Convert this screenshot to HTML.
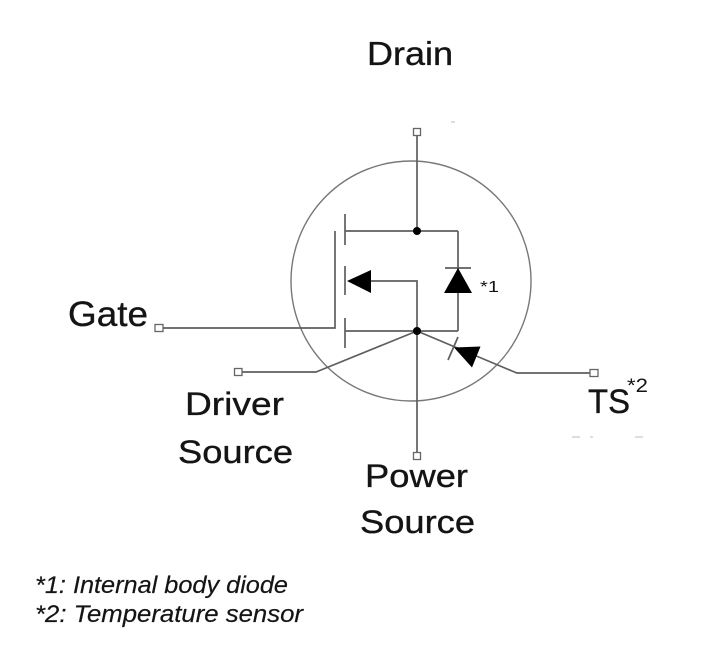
<!DOCTYPE html>
<html>
<head>
<meta charset="utf-8">
<style>
  html, body { margin:0; padding:0; background:#ffffff; }
  body { width:726px; height:663px; overflow:hidden; }
  svg { display:block; }
  text { font-family: "Liberation Sans", "DejaVu Sans", sans-serif; fill:#141414; }
  .lbl { stroke:#141414; stroke-width:0.35; }
  .fn { stroke:#1a1a1a; stroke-width:0.2; }
</style>
</head>
<body>
<svg width="726" height="663" viewBox="0 0 726 663" xmlns="http://www.w3.org/2000/svg">
  <rect width="726" height="663" fill="#ffffff"/>

  <!-- circle -->
  <circle cx="411" cy="281" r="120" fill="none" stroke="#777" stroke-width="1.4"/>

  <g stroke="#5e5e5e" stroke-width="1.7" fill="none" stroke-linecap="butt">
    <!-- drain line -->
    <line x1="417" y1="135.5" x2="417" y2="231"/>
    <!-- top horizontal -->
    <line x1="345" y1="231" x2="458" y2="231"/>
    <!-- right vertical (diode branch) -->
    <line x1="458" y1="231" x2="458" y2="331"/>
    <!-- bottom horizontal -->
    <line x1="345" y1="331" x2="458" y2="331"/>
    <!-- middle arrow connection -->
    <polyline points="371,281 417,281 417,331"/>
    <!-- power source vertical -->
    <line x1="417" y1="331" x2="417" y2="452.5"/>
    <!-- gate -->
    <polyline points="163,328 335,328 335,231"/>
    <!-- driver source -->
    <polyline points="242,372 316,372 321,370 417,331"/>
    <!-- TS -->
    <polyline points="417,331 512,371 517,373 590,373"/>
    <!-- channel plates -->
    <line x1="345" y1="214" x2="345" y2="245"/>
    <line x1="345" y1="266" x2="345" y2="295"/>
    <line x1="345" y1="318" x2="345" y2="348"/>
    <!-- diode bar -->
    <line x1="445" y1="268" x2="471" y2="268"/>
    <!-- TS slash -->
    <line x1="448" y1="360" x2="458" y2="337"/>
  </g>

  <!-- arrows / diode -->
  <polygon points="347,281 371,270 371,293" fill="#000"/>
  <polygon points="458,268 444,293 472,293" fill="#000"/>
  <polygon points="454,347.5 480.5,346.5 472,367.5" fill="#000"/>

  <!-- nodes -->
  <circle cx="417" cy="231" r="4" fill="#000"/>
  <circle cx="417" cy="331" r="4" fill="#000"/>

  <!-- terminals -->
  <g fill="#fff" stroke="#666" stroke-width="1.3">
    <rect x="413.5" y="128.5" width="7" height="7"/>
    <rect x="155" y="324.5" width="8" height="7"/>
    <rect x="234.5" y="368.5" width="7.5" height="7"/>
    <rect x="590" y="369.5" width="8" height="7"/>
    <rect x="413.5" y="452.5" width="7" height="7"/>
  </g>

  <!-- faint marks -->
  <g stroke="#c8c8c8" stroke-width="1.2">
    <line x1="572" y1="437" x2="580" y2="437"/>
    <line x1="590" y1="437" x2="593" y2="437"/>
    <line x1="635" y1="437" x2="643" y2="437"/>
    <line x1="451" y1="122" x2="455" y2="122"/>
  </g>

  <!-- labels -->
  <text class="lbl" x="367" y="65" font-size="33" textLength="86" lengthAdjust="spacingAndGlyphs">Drain</text>
  <text class="lbl" x="68" y="326" font-size="35" textLength="80" lengthAdjust="spacingAndGlyphs">Gate</text>
  <text class="lbl" x="185" y="415" font-size="32" textLength="99" lengthAdjust="spacingAndGlyphs">Driver</text>
  <text class="lbl" x="178" y="463" font-size="32" textLength="115" lengthAdjust="spacingAndGlyphs">Source</text>
  <text class="lbl" x="365" y="487" font-size="32" textLength="103" lengthAdjust="spacingAndGlyphs">Power</text>
  <text class="lbl" x="360" y="533" font-size="32" textLength="115" lengthAdjust="spacingAndGlyphs">Source</text>
  <text class="lbl" x="588" y="413" font-size="34" textLength="42" lengthAdjust="spacingAndGlyphs">TS</text>
  <text x="627" y="392" font-size="19" textLength="21" lengthAdjust="spacingAndGlyphs">*2</text>
  <text x="480" y="292" font-size="16" textLength="19" lengthAdjust="spacingAndGlyphs">*1</text>

  <!-- footnotes -->
  <text class="fn" x="35" y="593" font-size="24" font-style="italic" textLength="253" lengthAdjust="spacingAndGlyphs">*1: Internal body diode</text>
  <text class="fn" x="35" y="622" font-size="24" font-style="italic" textLength="268" lengthAdjust="spacingAndGlyphs">*2: Temperature sensor</text>
</svg>
</body>
</html>
